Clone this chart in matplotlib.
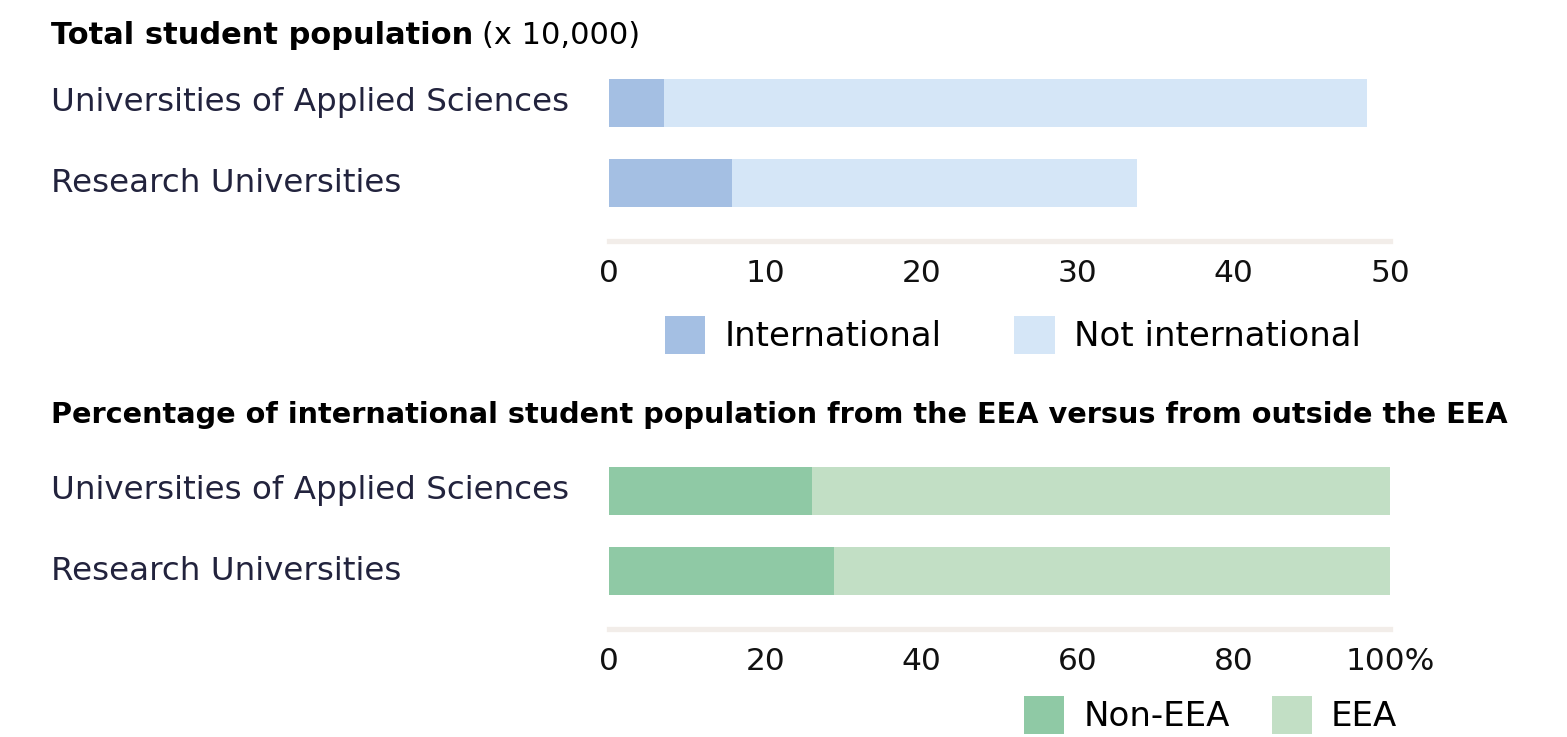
import matplotlib
matplotlib.use('agg')
import matplotlib.pyplot as plt
import matplotlib.transforms as mtransforms
import numpy as np

plt.rcParams['font.family'] = ['DejaVu Sans']

categories = ['Universities of Applied Sciences', 'Research Universities']

# total population (x 10,000)
international = [3.5, 7.9]
not_international = [45.0, 25.9]

# share of international students (%)
non_eea = [26.0, 28.8]
eea = [74.0, 71.2]

blue_dark = '#a4bfe3'
blue_light = '#d5e6f7'
green_dark = '#8fc9a5'
green_light = '#c2dfc5'
label_col = '#22233d'
line_col = '#f2ede9'

W, H = 1567, 737
fig = plt.figure(figsize=(W / 100, H / 100), dpi=100)


def px_axes(left, top, right, bottom):
    return fig.add_axes([left / W, 1 - bottom / H, (right - left) / W, (bottom - top) / H])


def style(ax, xmax, ticks, ticklabels):
    ax.set_xlim(0, xmax)
    ax.set_ylim(-0.725, 1.5)
    for s in ['top', 'right', 'left']:
        ax.spines[s].set_visible(False)
    ax.spines['bottom'].set_color(line_col)
    ax.spines['bottom'].set_linewidth(3.8)
    ax.set_yticks([])
    ax.set_xticks(ticks)
    ax.set_xticklabels(ticklabels)
    ax.tick_params(axis='x', length=0, pad=13, labelsize=22.5, labelcolor='#111111')
    tr = mtransforms.blended_transform_factory(fig.transFigure, ax.transData)
    ypos = np.arange(len(categories))[::-1]
    for y, name in zip(ypos, categories):
        ax.text(51 / W, y, name, transform=tr, ha='left', va='center',
                fontsize=23.4, color=label_col)
    return ypos


# top chart
ax1 = px_axes(609, 63, 1390, 241)
y = style(ax1, 50, [0, 10, 20, 30, 40, 50], ['0', '10', '20', '30', '40', '50'])
ax1.barh(y, international, height=0.6, color=blue_dark, label='International')
ax1.barh(y, not_international, left=international, height=0.6, color=blue_light,
         label='Not international')
ax1.legend(loc='center left', bbox_to_anchor=(665 / W, 1 - 335 / H),
           bbox_transform=fig.transFigure, ncol=2, frameon=False, fontsize=24.5,
           handlelength=1.18, handleheight=1.35, handletextpad=0.56,
           columnspacing=2.15, borderpad=0, borderaxespad=0)

# bottom chart
ax2 = px_axes(609, 451, 1390, 629)
y = style(ax2, 100, [0, 20, 40, 60, 80, 100], ['0', '20', '40', '60', '80', '100%'])
ax2.barh(y, non_eea, height=0.6, color=green_dark, label='Non-EEA')
ax2.barh(y, eea, left=non_eea, height=0.6, color=green_light, label='EEA')
ax2.legend(loc='center right', bbox_to_anchor=(1397 / W, 1 - 715 / H),
           bbox_transform=fig.transFigure, ncol=2, frameon=False, fontsize=24.5,
           handlelength=1.18, handleheight=1.35, handletextpad=0.56,
           columnspacing=1.23, borderpad=0, borderaxespad=0)

# titles
t1 = fig.text(51 / W, 1 - 36 / H, 'Total student population', fontsize=22,
              fontweight='bold', ha='left', va='center', color='#000000')
fig.canvas.draw()
bb = t1.get_window_extent()
fig.text(bb.x1 / W + 9 / W, 1 - 36 / H, '(x 10,000)', fontsize=22,
         ha='left', va='center', color='#000000')
fig.text(51 / W, 1 - 415 / H,
         'Percentage of international student population from the EEA versus from outside the EEA',
         fontsize=20.7, fontweight='bold', ha='left', va='center', color='#000000')

fig.savefig('out.png', dpi=100)
